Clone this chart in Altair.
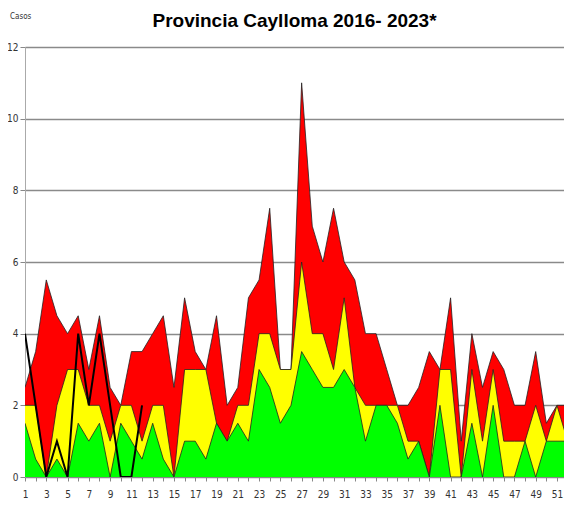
import altair as alt
import pandas as pd

weeks = list(range(1, 53))
epidemia = [2.5, 3.5, 5.5, 4.5, 4, 4.5, 3, 4.5, 2.5, 2, 3.5, 3.5, 4, 4.5, 2.5, 5, 3.5, 3, 4.5, 2,
            2.5, 5, 5.5, 7.5, 3, 3, 11, 7, 6, 7.5, 6, 5.5, 4, 4, 3, 2, 2, 2.5, 3.5, 3,
            5, 1, 4, 2.5, 3.5, 3, 2, 2, 3.5, 1.5, 2, 2]
alarma = [2, 2, 0, 2, 3, 3, 2, 2, 1, 2, 2, 1, 2, 2, 0, 3, 3, 3, 1.5, 1,
          2, 2, 4, 4, 3, 3, 6, 4, 4, 3, 5, 2.5, 2, 2, 2, 2, 1, 1, 0, 3,
          3, 0, 3, 1, 3, 1, 1, 1, 2, 1, 2, 1]
seguridad = [1.5, 0.5, 0, 0.5, 0, 1.5, 1, 1.5, 0, 1.5, 1, 0.5, 1.5, 0.5, 0, 1, 1, 0.5, 1.5, 1,
             1.5, 1, 3, 2.5, 1.5, 2, 3.5, 3, 2.5, 2.5, 3, 2.5, 1, 2, 2, 1.5, 0.5, 1, 0, 2,
             0, 0, 1.5, 0, 2, 0, 0, 1, 0, 1, 1, 1]
weeks_2023 = list(range(1, 13))
casos_2023 = [4, 2, 0, 1, 0, 4, 2, 4, 2, 0, 0, 2]
title_text = ["Provincia Caylloma 2016- 2023*"]
y_title = ["Casos"]

df = pd.DataFrame({"semana": weeks, "epidemia": epidemia, "alarma": alarma, "seguridad": seguridad})
df23 = pd.DataFrame({"semana": weeks_2023, "casos": casos_2023})

FONT = "DejaVu Sans Condensed, Liberation Sans, sans-serif"
TFONT = "Liberation Sans, Arial, sans-serif"

W, H = 539, 430
xscale = alt.Scale(domain=[1, 51.66], nice=False, zero=False)
yscale = alt.Scale(domain=[0, 12], nice=False)

xaxis = alt.Axis(values=weeks, tickCount=60, labelExpr="datum.value % 2 == 1 ? datum.value : ''",
                 title=None, grid=False, tickSize=4, tickColor="#888", domainColor="#888",
                 labelFontSize=10, labelColor="#333", labelFont=FONT, labelPadding=8,
                 labelFlush=False, labelOverlap=False)
yaxis = alt.Axis(values=[0, 2, 4, 6, 8, 10, 12], title=None,
                 grid=True, gridColor="#8a8a8a", gridWidth=1.5, tickSize=5, tickColor="#888",
                 domainColor="#aaa", labelFontSize=10, labelColor="#333", labelFont=FONT,
                 labelPadding=2)

base = alt.Chart(df)
edge = {"color": "#222", "strokeWidth": 0.8}

red = base.mark_area(color="#FF0000", opacity=1, clip=True, line=edge).encode(
    x=alt.X("semana:Q", scale=xscale, axis=xaxis),
    y=alt.Y("epidemia:Q", scale=yscale, axis=yaxis),
)
yellow = base.mark_area(color="#FFFF00", opacity=1, clip=True, line=edge).encode(
    x=alt.X("semana:Q", scale=xscale),
    y=alt.Y("alarma:Q", scale=yscale),
)
green = base.mark_area(color="#00FF00", opacity=1, clip=True, line=edge).encode(
    x=alt.X("semana:Q", scale=xscale),
    y=alt.Y("seguridad:Q", scale=yscale),
)
line = alt.Chart(df23).mark_line(color="black", strokeWidth=2, clip=True).encode(
    x=alt.X("semana:Q", scale=xscale),
    y=alt.Y("casos:Q", scale=yscale),
)
casos_label = alt.Chart(pd.DataFrame({"t": y_title})).mark_text(
    align="left", baseline="middle", fontSize=8, font=FONT, color="#333"
).encode(text="t:N", x=alt.value(-15), y=alt.value(-30))
title_mark = alt.Chart(pd.DataFrame({"t": title_text})).mark_text(
    align="center", baseline="alphabetic", fontSize=19, fontWeight="bold", font=TFONT, color="black"
).encode(text="t:N", x=alt.value(W / 2), y=alt.value(-20))

chart = alt.layer(red, yellow, green, line, casos_label, title_mark).properties(
    width=W, height=H,
    autosize=alt.AutoSizeParams(type="none"),
    padding={"left": 17, "top": 39, "right": 0, "bottom": 24},
).configure_view(stroke=None).configure(background="white")

chart.save("out.html", embed_options={"renderer": "svg", "actions": False})
